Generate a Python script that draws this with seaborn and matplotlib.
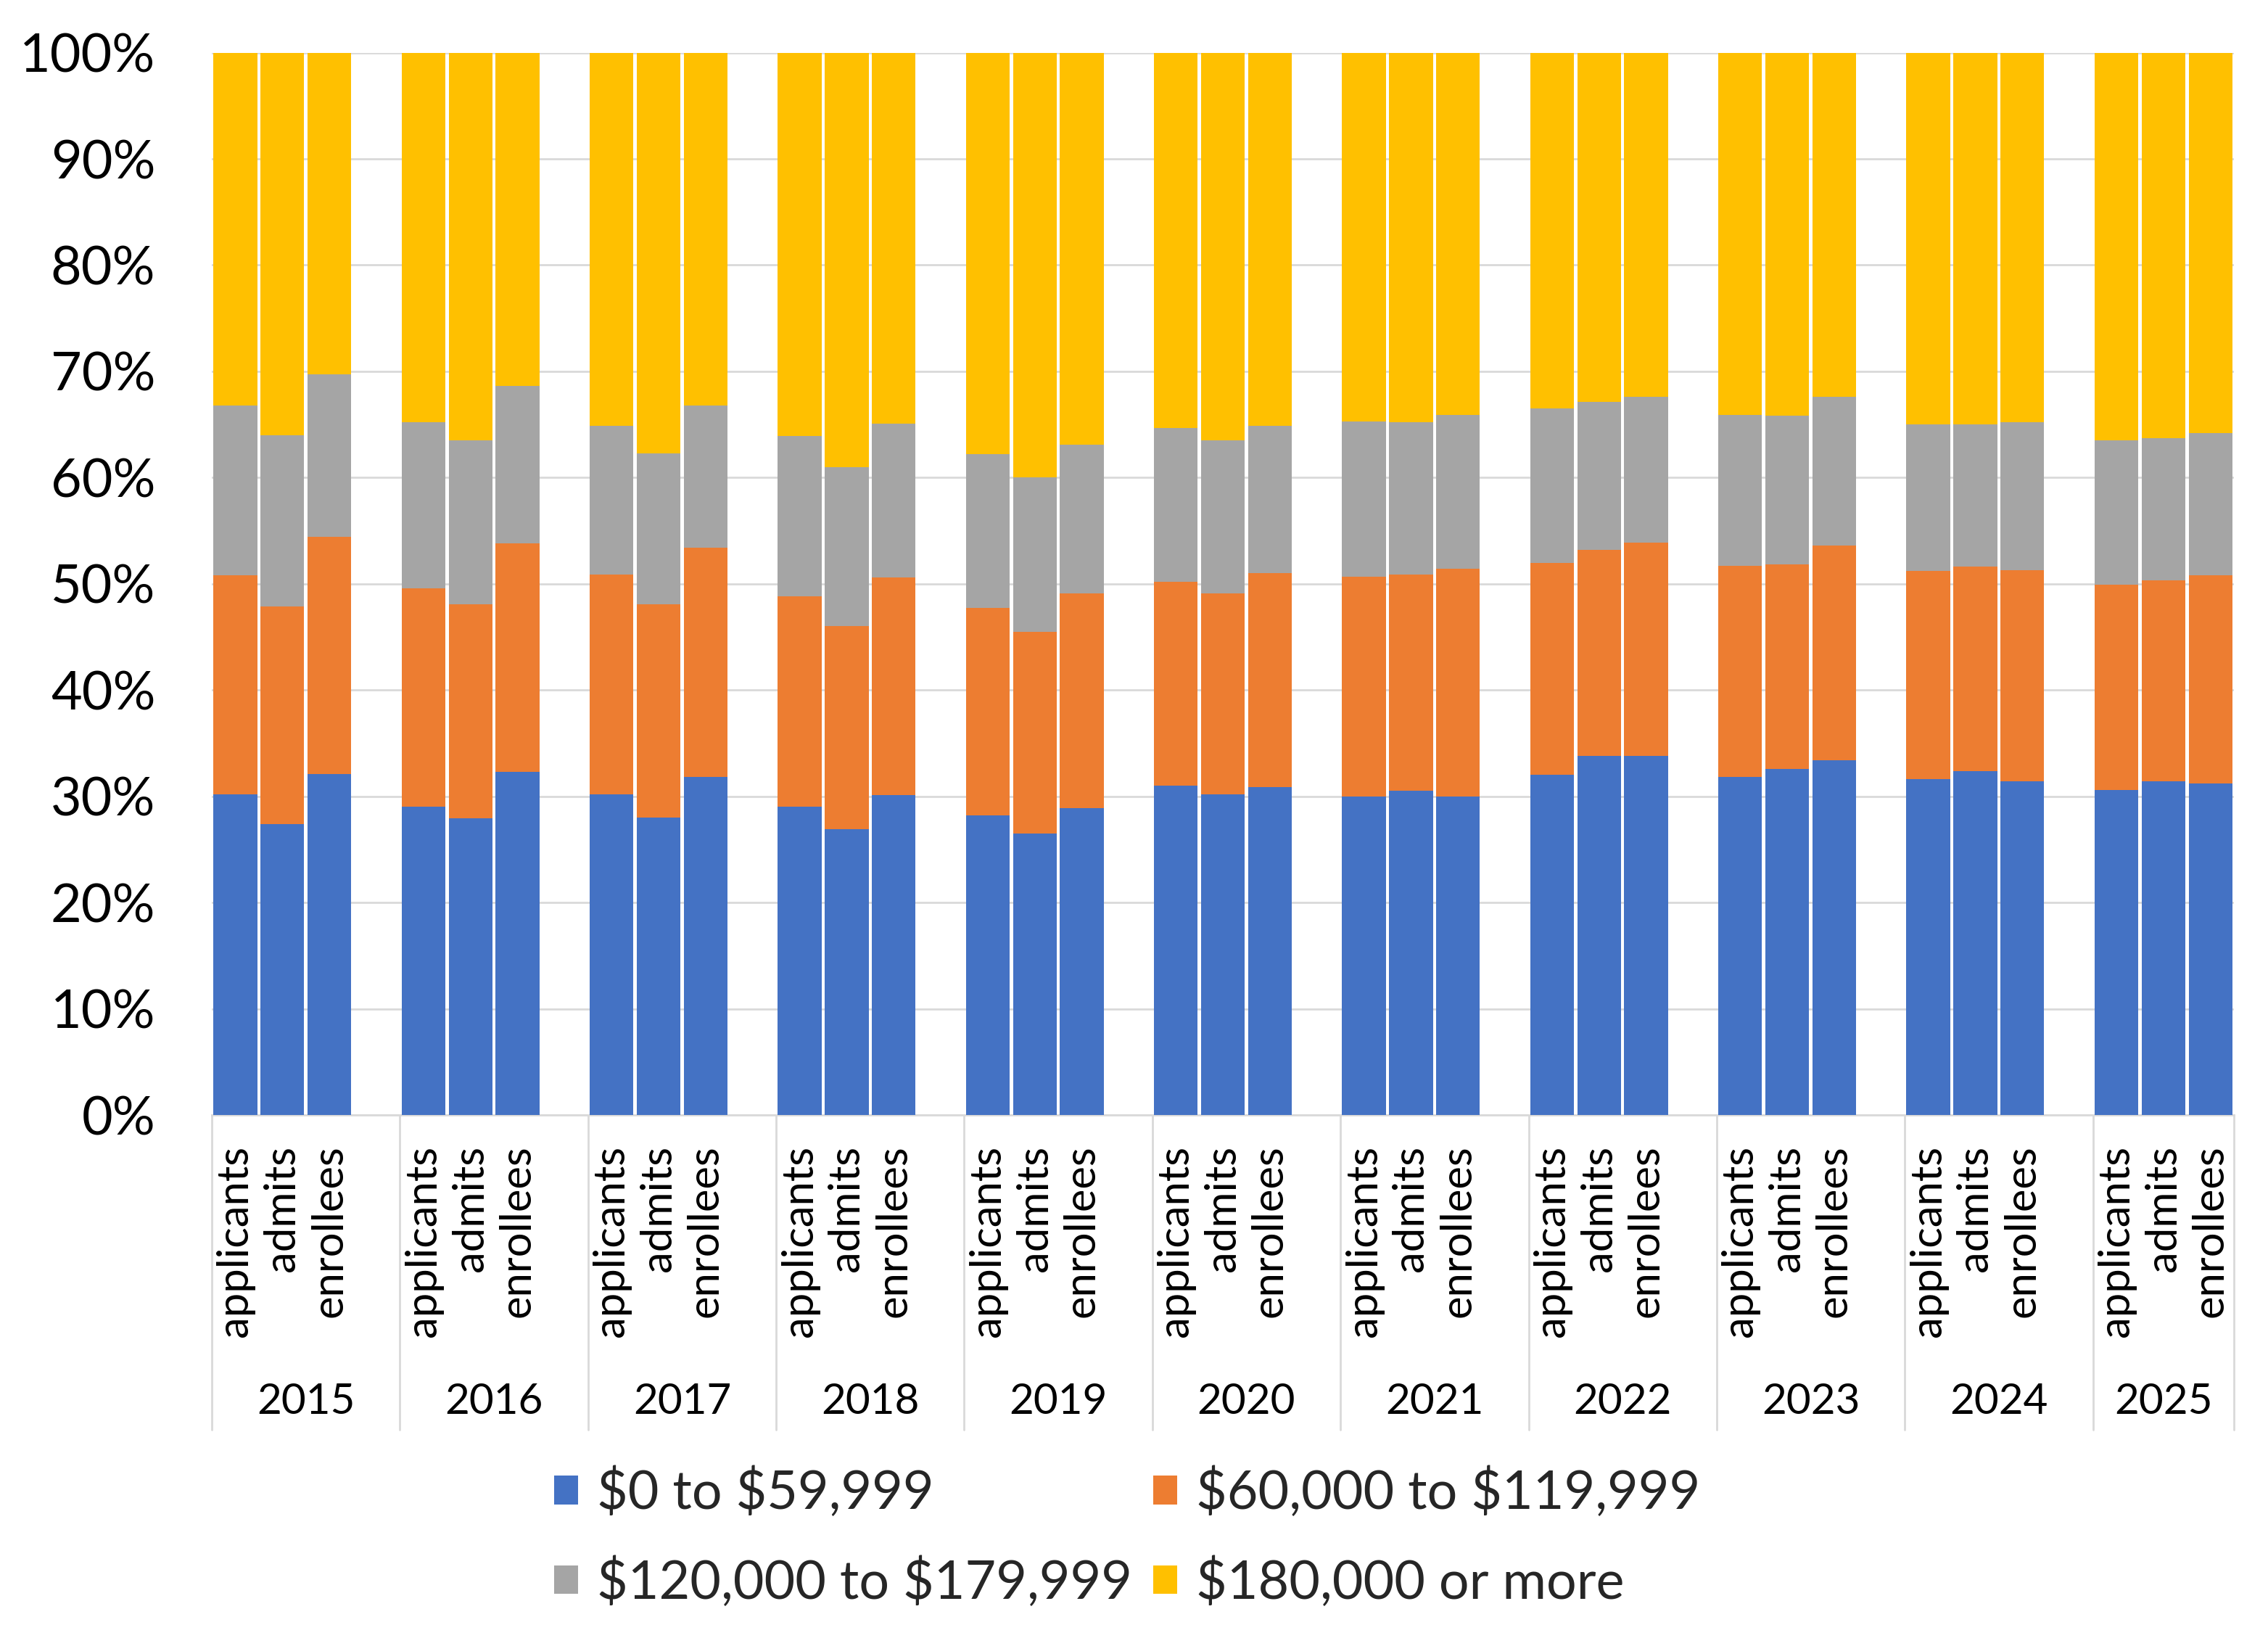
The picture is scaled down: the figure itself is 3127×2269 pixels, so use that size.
import numpy as np
import pandas as pd
import matplotlib.pyplot as plt
import matplotlib.transforms as mtransforms
from matplotlib.patches import Patch
import seaborn as sns

YEARS = ['2015', '2016', '2017', '2018', '2019', '2020', '2021', '2022', '2023', '2024', '2025']
STAGES = ['applicants', 'admits', 'enrollees']
BANDS = ['$0 to $59,999', '$60,000 to $119,999', '$120,000 to $179,999', '$180,000 or more']
COLORS = ['#4472C4', '#ED7D31', '#A5A5A5', '#FFC000']

# share (%) per band, one entry per (year, stage): applicants, admits, enrollees
band_0_60k = [30.2, 27.4, 32.1, 29.0, 27.9, 32.3, 30.2, 28.0, 31.8, 29.0, 26.9, 30.1,
              28.2, 26.5, 28.9, 31.0, 30.2, 30.9, 30.0, 30.5, 30.0, 32.0, 33.8, 33.8,
              31.8, 32.6, 33.4, 31.6, 32.4, 31.4, 30.6, 31.4, 31.2]
band_60_120k = [20.6, 20.5, 22.3, 20.6, 20.2, 21.5, 20.7, 20.1, 21.6, 19.8, 19.1, 20.5,
                19.5, 19.0, 20.2, 19.2, 18.9, 20.1, 20.7, 20.4, 21.4, 20.0, 19.4, 20.1,
                19.9, 19.2, 20.2, 19.6, 19.2, 19.9, 19.3, 18.9, 19.6]
band_120_180k = [16.0, 16.1, 15.3, 15.6, 15.4, 14.8, 14.0, 14.2, 13.4, 15.1, 15.0, 14.5,
                 14.5, 14.5, 14.0, 14.5, 14.4, 13.9, 14.6, 14.3, 14.5, 14.5, 13.9, 13.7,
                 14.2, 14.0, 14.0, 13.8, 13.4, 13.9, 13.6, 13.4, 13.4]
band_180k_plus = [33.2, 36.0, 30.3, 34.8, 36.5, 31.4, 35.1, 37.7, 33.2, 36.1, 39.0, 34.9,
                  37.8, 40.0, 36.9, 35.3, 36.5, 35.1, 34.7, 34.8, 34.1, 33.5, 32.9, 32.4,
                  34.1, 34.2, 32.4, 35.0, 35.0, 34.8, 36.5, 36.3, 35.8]

# long-form table; an empty spacer slot sits between years (like the excel sheet)
slot_order, slot_labels = [], []
for n, y in enumerate(YEARS):
    for s in STAGES:
        slot_order.append(f"{y} {s}")
        slot_labels.append(s)
    if n < len(YEARS) - 1:
        slot_order.append(f"{y} gap")
        slot_labels.append('')

rows = []
series = [band_0_60k, band_60_120k, band_120_180k, band_180k_plus]
i = 0
for y in YEARS:
    for s in STAGES:
        for band, vals in zip(BANDS, series):
            rows.append({'slot': f"{y} {s}", 'band': band, 'share': vals[i]})
        i += 1
df = pd.DataFrame(rows)
df['band'] = pd.Categorical(df['band'], categories=BANDS, ordered=True)
df = df.sort_values(['slot', 'band'])
df['cum'] = df.groupby('slot', observed=True)['share'].cumsum()
# normalise so that every stack reaches 100%
df['cum'] = df['cum'] / df.groupby('slot', observed=True)['share'].transform('sum') * 100

sns.set_theme(style='white')
plt.rcParams['font.family'] = ['Lato', 'DejaVu Sans']
plt.rcParams['text.parse_math'] = False

fig = plt.figure(figsize=(3127 / 200, 2269 / 200), dpi=200)
ax = fig.add_axes([0.0934, 0.3226, 0.8916, 0.6454])

# stacked bars: draw cumulative totals from the top band down
for band, color in reversed(list(zip(BANDS, COLORS))):
    sns.barplot(data=df[df['band'] == band], x='slot', y='cum', order=slot_order,
                color=color, saturation=1, width=0.93, errorbar=None, ax=ax,
                linewidth=0, zorder=3)

x_max = len(slot_order) - 0.5
ax.set_xlim(-0.5, x_max)
ax.set_ylim(0, 100)
ax.set_yticks(range(0, 101, 10))
ax.set_yticklabels([f"{v}%" for v in range(0, 101, 10)], fontsize=26.5, color='black')
ax.yaxis.grid(True, color='#D9D9D9', linewidth=1.0, zorder=0)
ax.xaxis.grid(False)
ax.set_axisbelow(True)
ax.tick_params(axis='y', length=0, pad=28)
ax.set_xticks(range(len(slot_order)))
ax.set_xticklabels(slot_labels, rotation=90, fontsize=21.5, color='black', va='top', ha='center')
ax.tick_params(axis='x', length=0, pad=15)
ax.set_xlabel('')
ax.set_ylabel('')
for side in ['left', 'right', 'top']:
    ax.spines[side].set_visible(False)
ax.spines['bottom'].set_color('#D9D9D9')
ax.spines['bottom'].set_linewidth(1.0)

# multi-level category axis: separators and year labels
trans = mtransforms.blended_transform_factory(ax.transData, ax.transAxes)
seps = [-0.5 + 4 * k for k in range(len(YEARS))] + [x_max]
for xs in seps:
    ax.plot([xs, xs], [0, -0.2965], transform=trans, color='#D9D9D9', lw=1.0, clip_on=False)
for k, y in enumerate(YEARS):
    ax.text((seps[k] + seps[k + 1]) / 2, -0.27, y, transform=trans, ha='center', va='center',
            fontsize=21, color='black')

handles = [Patch(facecolor=c, edgecolor='none') for c in COLORS]
order = [0, 2, 1, 3]
fig.legend([handles[j] for j in order], [BANDS[j] for j in order], ncol=2,
           loc='center', bbox_to_anchor=(0.497, 0.0657), frameon=False,
           fontsize=26.5, handlelength=0.45, handleheight=0.45, handletextpad=0.35,
           columnspacing=0.4, labelspacing=0.72)

plt.savefig('out.png', dpi=200)
